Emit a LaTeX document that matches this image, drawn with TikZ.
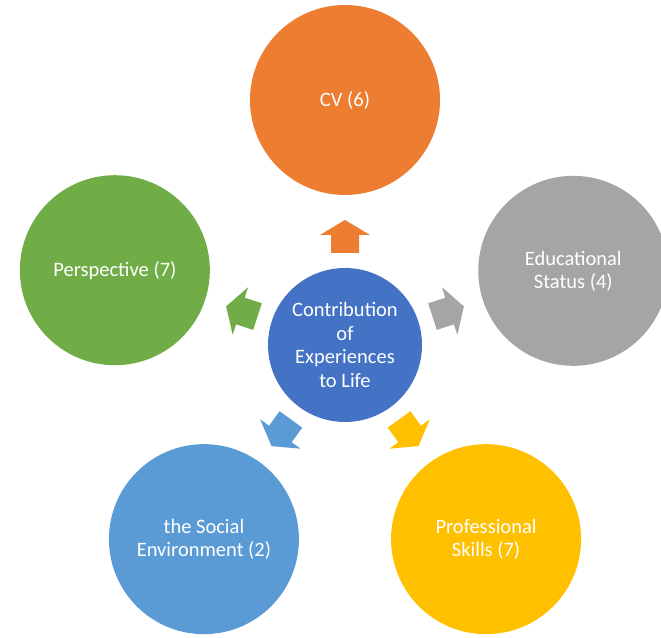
\documentclass[tikz,border=0pt]{standalone}
\usepackage{fontspec}
\setmainfont{Carlito}
\usetikzlibrary{calc}
\definecolor{cOrange}{HTML}{ED7D31}
\definecolor{cGray}{HTML}{A5A5A5}
\definecolor{cGreen}{HTML}{70AD47}
\definecolor{cBlue}{HTML}{5B9BD5}
\definecolor{cYellow}{HTML}{FFC000}
\definecolor{cCenter}{HTML}{4472C4}
\begin{document}
\begin{tikzpicture}[x=1pt,y=1pt,
  bubble/.style={circle,minimum size=190pt,inner sep=0pt,text=white,align=center,
    font=\fontsize{20.5}{23}\selectfont},
  hub/.style={circle,minimum size=154pt,inner sep=0pt,fill=cCenter,text=white,align=center,
    font=\fontsize{20.5}{23.5}\selectfont},
  blockarrow/.style={line join=miter}]
\useasboundingbox (0,0) rectangle (661,637);
\coordinate (C) at (345,292);
\node[hub] (hub) at (C) {Contribution\\of\\Experiences\\to Life};
\node[bubble,fill=cOrange] (cv) at ($(C)+(90:245)$) {CV (6)};
\node[bubble,fill=cGray] (edu) at ($(C)+(18:240)$) {Educational\\Status (4)};
\node[bubble,fill=cGreen] (per) at ($(C)+(162:242)$) {Perspective (7)};
\node[bubble,fill=cBlue] (soc) at ($(C)+(234:240)$) {the Social\\Environment (2)};
\node[bubble,fill=cYellow] (pro) at ($(C)+(306:240)$) {Professional\\Skills (7)};
\foreach \a/\col in {90/cOrange,18/cGray,162/cGreen,234/cBlue,306/cYellow}{
  \begin{scope}[shift={(C)},rotate=\a-90]
    \fill[\col,blockarrow] (-14,92) -- (14,92) -- (14,110) -- (25,110) -- (0,125) -- (-25,110) -- (-14,110) -- cycle;
  \end{scope}
}
\end{tikzpicture}
\end{document}
